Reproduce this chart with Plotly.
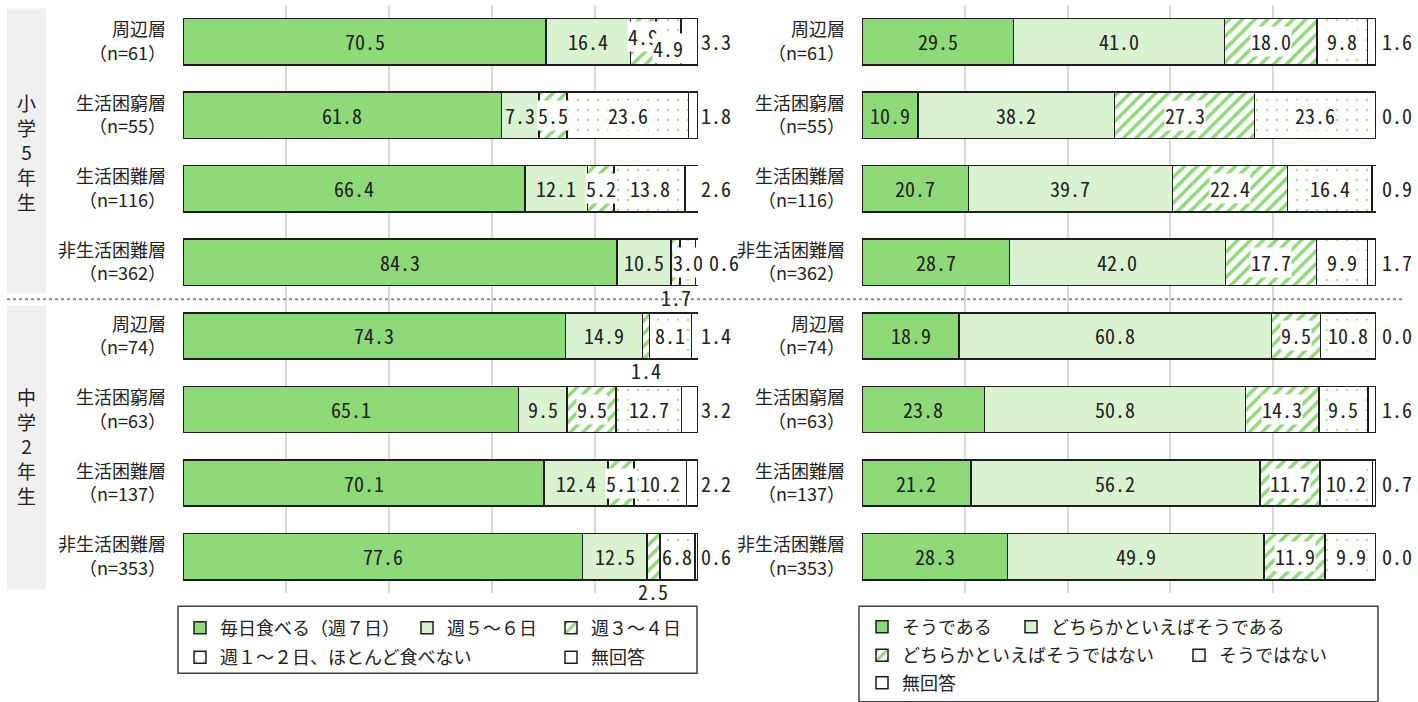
import plotly.graph_objects as go

# ---------------- data ----------------
groups = ["小学5年生", "中学2年生"]
layers = ["周辺層", "生活困窮層", "生活困難層", "非生活困難層"]
n_values = [61, 55, 116, 362, 74, 63, 137, 353]

# left panel: 朝食を食べる頻度
left_names = ["毎日食べる（週７日）", "週５～６日", "週３～４日",
              "週１～２日、ほとんど食べない", "無回答"]
eat_7 = [70.5, 61.8, 66.4, 84.3, 74.3, 65.1, 70.1, 77.6]
eat_56 = [16.4, 7.3, 12.1, 10.5, 14.9, 9.5, 12.4, 12.5]
eat_34 = [4.9, 5.5, 5.2, 1.7, 1.4, 9.5, 5.1, 2.5]
eat_12 = [4.9, 23.6, 13.8, 3.0, 8.1, 12.7, 10.2, 6.8]
eat_na = [3.3, 1.8, 2.6, 0.6, 1.4, 3.2, 2.2, 0.6]

# right panel
right_names = ["そうである", "どちらかといえばそうである",
               "どちらかといえばそうではない", "そうではない", "無回答"]
ans_yes = [29.5, 10.9, 20.7, 28.7, 18.9, 23.8, 21.2, 28.3]
ans_ryes = [41.0, 38.2, 39.7, 42.0, 60.8, 50.8, 56.2, 49.9]
ans_rno = [18.0, 27.3, 22.4, 17.7, 9.5, 14.3, 11.7, 11.9]
ans_no = [9.8, 23.6, 16.4, 9.9, 10.8, 9.5, 10.2, 9.9]
ans_na = [1.6, 0.0, 0.9, 1.7, 0.0, 1.6, 0.7, 0.0]

left_series = [eat_7, eat_56, eat_34, eat_12, eat_na]
right_series = [ans_yes, ans_ryes, ans_rno, ans_no, ans_na]

# ---------------- styling ----------------
W, H = 1418, 702
DARK = "#8fda78"
LIGHT = "#d9f2d0"
EDGE = "#1e1e1e"
TXT = "#222222"
LABEL_FONT = "Noto Sans CJK JP, Noto Sans, sans-serif"
NUM_FONT = "Noto Sans Mono CJK JP, Noto Sans CJK JP, DejaVu Sans Mono, monospace"

styles = [
    dict(color=DARK),
    dict(color=LIGHT),
    dict(color="white", pattern=dict(shape="/", fgcolor="#8fda78", bgcolor="white",
                                     size=9, solidity=0.4, fillmode="replace")),
    dict(color="white", pattern=dict(shape=".", fgcolor="#a6e294", bgcolor="white",
                                     size=10, solidity=0.05, fillmode="replace")),
    dict(color="white"),
]

cat_ids = [f"{g}|{l}" for g in groups for l in layers]
tick_text = [f"{l}<br>（n={n}）" for (g, l), n in
             zip([(g, l) for g in groups for l in layers], n_values)]


def px_x(p):
    return p / W


def px_y(p):
    return 1 - p / H


fig = go.Figure()

panels = [
    dict(names=left_names, series=left_series, xa="x", ya="y", leg0=1, na_shift=2),
    dict(names=right_names, series=right_series, xa="x2", ya="y2", leg0=6, na_shift=5),
]

annotations = []
for pi, p in enumerate(panels):
    for si, (name, vals) in enumerate(zip(p["names"], p["series"])):
        st = styles[si]
        marker = dict(color=st["color"], line=dict(color=EDGE, width=1.5))
        if "pattern" in st:
            marker["pattern"] = st["pattern"]
        leg = "legend" if p["leg0"] + si == 1 else f"legend{p['leg0'] + si}"
        fig.add_trace(go.Bar(
            name=name, x=vals, y=cat_ids, orientation="h",
            marker=marker, width=0.63, xaxis=p["xa"], yaxis=p["ya"],
            legend=leg, showlegend=True, hoverinfo="skip",
        ))
    # value labels
    for ri in range(len(cat_ids)):
        start = 0.0
        row_vals = [s[ri] for s in p["series"]]
        for si, v in enumerate(row_vals):
            center = start + v / 2
            start += v
            ann = dict(xref=p["xa"], yref=p["ya"], y=ri, text=f"{v:.1f}",
                       showarrow=False, font=dict(family=NUM_FONT, size=20, color=TXT),
                       borderpad=0)
            if si == 4:
                shift = p["na_shift"]
                if row_vals[3] < 4:
                    shift += 8
                ann.update(x=100, xanchor="left", xshift=shift)
            else:
                ann.update(x=center, xanchor="center")
                if si in (2, 3):
                    ann["bgcolor"] = "white"
                if pi == 0 and si == 2 and v < 3:
                    ann["yshift"] = -35
                    ann.pop("bgcolor", None)
                elif pi == 0 and si in (2, 3) and row_vals[2] < 6 and row_vals[3] < 6 \
                        and row_vals[2] >= 3:
                    ann["yshift"] = 5 if si == 2 else -7
            annotations.append(ann)

# group labels (vertical, one character per line)
for gi, g in enumerate(groups):
    annotations.append(dict(
        xref="paper", yref="y", x=px_x(26), y=gi * 4 + 1.5, text="<br>".join(list(g)),
        showarrow=False, xanchor="center", yanchor="middle",
        font=dict(family=LABEL_FONT, size=19, color=TXT)))

shapes = []
# gray side bands
for y0, y1 in [(-0.45, 3.42), (3.59, 7.45)]:
    shapes.append(dict(type="rect", xref="paper", yref="y", x0=px_x(7), x1=px_x(46),
                       y0=y0, y1=y1, fillcolor="#f0f0f0", line=dict(width=0),
                       layer="below"))
# dotted separator
shapes.append(dict(type="line", xref="paper", yref="y", x0=px_x(7), x1=px_x(1402),
                   y0=3.5, y1=3.5, line=dict(color="#8c8c8c", width=2, dash="dot")))
# legend boxes
shapes.append(dict(type="rect", xref="paper", yref="paper", x0=px_x(178), x1=px_x(697),
                   y0=px_y(683), y1=px_y(615), line=dict(color="#404040", width=1.5)))
shapes.append(dict(type="rect", xref="paper", yref="paper", x0=px_x(859), x1=px_x(1378),
                   y0=px_y(712), y1=px_y(615), line=dict(color="#404040", width=1.5)))

# legend item positions (icon centre x, row centre y)
legend_pos = [(200, 637), (427, 637), (571, 637), (200, 667), (571, 667),
              (882, 636), (1031, 636), (882, 665), (1199, 665), (882, 693)]
legend_layout = {}
for k, (cx, cy) in enumerate(legend_pos, start=1):
    key = "legend" if k == 1 else f"legend{k}"
    legend_layout[key] = dict(
        x=px_x(cx - 20), y=px_y(cy), xanchor="left", yanchor="middle",
        orientation="h", bgcolor="rgba(0,0,0,0)", borderwidth=0,
        font=dict(family=LABEL_FONT, size=18, color=TXT),
        itemclick=False, itemdoubleclick=False,
    )

xa_common = dict(range=[0, 100], showgrid=True, gridcolor="#d9d9d9", gridwidth=1.5,
                 dtick=20, tick0=0, showticklabels=False, zeroline=False,
                 showline=False, ticks="", fixedrange=True)
ya_common = dict(type="category", categoryorder="array", categoryarray=cat_ids,
                 autorange="reversed", tickmode="array", tickvals=cat_ids,
                 ticktext=tick_text, ticks="", showgrid=False, showline=False,
                 zeroline=False, ticklabelstandoff=16,
                 tickfont=dict(family=LABEL_FONT, size=18, color=TXT), fixedrange=True)

fig.update_layout(
    width=W, height=H, margin=dict(l=0, r=0, t=0, b=0),
    paper_bgcolor="white", plot_bgcolor="white", barmode="stack",
    font=dict(family=LABEL_FONT, color=TXT),
    xaxis=dict(domain=[px_x(183), px_x(698)], anchor="y", **xa_common),
    xaxis2=dict(domain=[px_x(862), px_x(1376)], anchor="y2", **xa_common),
    yaxis=dict(domain=[px_y(602), px_y(5)], anchor="x", **ya_common),
    yaxis2=dict(domain=[px_y(602), px_y(5)], anchor="x2", **ya_common),
    annotations=annotations, shapes=shapes,
    **legend_layout,
)

fig.write_html("out.html", config=dict(displayModeBar=False),
               post_script="document.body.style.margin='0';document.body.style.overflow='hidden';")
